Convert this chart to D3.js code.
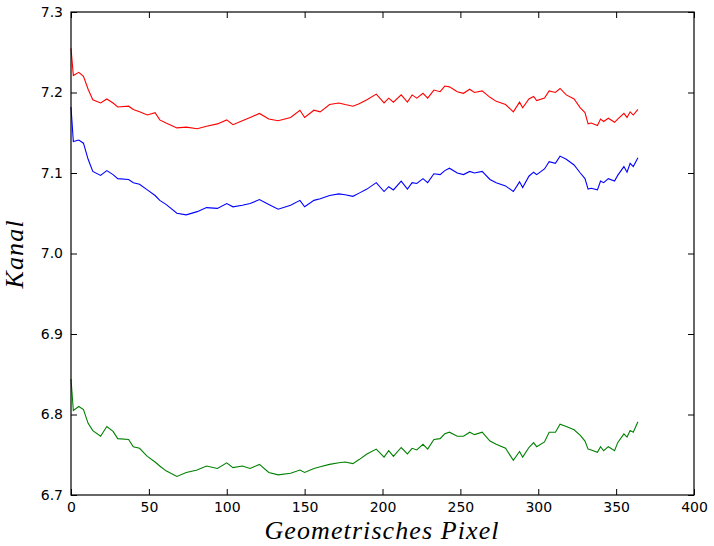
<!DOCTYPE html>
<html>
<meta charset="utf-8">
<script src="https://d3js.org/d3.v7.min.js"></script>
<style>
  body { margin: 0; background: #fff; }
  .tick text { font-family: "DejaVu Sans", sans-serif; font-size: 14px; fill: #000; }
  .tick line { stroke: #000; }
  .axis-title { font-family: "Liberation Serif", serif; font-style: italic; font-size: 26px; }
</style>
<body>
<div id="chart"></div>
<script>

// pixel positions along the detector (shared by all three channels)
var pixels = [0, 1.5, 5, 8, 11, 14, 19, 23, 27, 30, 37, 40, 44, 49, 54, 57, 61, 68, 74, 81,
  87, 94, 100, 104, 110, 115, 121, 127, 133, 141, 147, 150, 156, 160, 166, 172, 176, 181, 185, 190,
  196, 201, 204, 207, 212, 216, 219, 222, 226, 229, 233, 237, 240, 243, 248, 252, 256, 259, 264, 269,
  273, 279, 284, 288, 290, 294, 297, 299, 304, 307, 311, 314, 318, 323, 327, 330, 332, 334, 338, 340,
  342, 345, 349, 351, 355, 357, 359, 361, 364];

var redValues = [7.255, 7.221, 7.225, 7.220, 7.204, 7.191, 7.187, 7.192, 7.187, 7.182, 7.183, 7.179, 7.176, 7.172, 7.175, 7.166, 7.162, 7.156, 7.157, 7.155,
  7.158, 7.161, 7.166, 7.160, 7.165, 7.169, 7.174, 7.167, 7.165, 7.169, 7.178, 7.169, 7.178, 7.176, 7.185, 7.187, 7.185, 7.183, 7.186, 7.191,
  7.198, 7.187, 7.193, 7.188, 7.197, 7.188, 7.197, 7.193, 7.199, 7.193, 7.203, 7.201, 7.208, 7.207, 7.201, 7.199, 7.204, 7.200, 7.202, 7.194,
  7.189, 7.185, 7.176, 7.188, 7.181, 7.192, 7.195, 7.190, 7.193, 7.202, 7.200, 7.205, 7.197, 7.192, 7.181, 7.175, 7.161, 7.162, 7.159, 7.167,
  7.164, 7.168, 7.163, 7.167, 7.174, 7.169, 7.176, 7.172, 7.179];

var blueValues = [7.182, 7.139, 7.141, 7.137, 7.117, 7.102, 7.097, 7.103, 7.098, 7.093, 7.092, 7.088, 7.086, 7.079, 7.072, 7.066, 7.061, 7.050, 7.048, 7.052,
  7.057, 7.056, 7.062, 7.058, 7.060, 7.062, 7.067, 7.061, 7.055, 7.060, 7.066, 7.058, 7.066, 7.068, 7.072, 7.074, 7.073, 7.071, 7.075, 7.080,
  7.088, 7.077, 7.083, 7.079, 7.090, 7.080, 7.088, 7.087, 7.093, 7.088, 7.099, 7.098, 7.103, 7.106, 7.100, 7.098, 7.102, 7.100, 7.102, 7.092,
  7.088, 7.084, 7.077, 7.089, 7.082, 7.096, 7.101, 7.098, 7.105, 7.114, 7.112, 7.121, 7.117, 7.110, 7.100, 7.093, 7.080, 7.081, 7.079, 7.090,
  7.088, 7.093, 7.090, 7.097, 7.108, 7.101, 7.112, 7.108, 7.119];

var greenValues = [6.844, 6.805, 6.810, 6.806, 6.789, 6.780, 6.773, 6.785, 6.779, 6.770, 6.769, 6.760, 6.758, 6.748, 6.741, 6.736, 6.730, 6.723, 6.728, 6.731,
  6.736, 6.733, 6.740, 6.734, 6.736, 6.733, 6.738, 6.728, 6.725, 6.727, 6.731, 6.728, 6.733, 6.735, 6.738, 6.740, 6.741, 6.739, 6.744, 6.751,
  6.757, 6.747, 6.755, 6.748, 6.759, 6.751, 6.758, 6.756, 6.763, 6.757, 6.769, 6.770, 6.776, 6.778, 6.773, 6.773, 6.778, 6.775, 6.778, 6.767,
  6.763, 6.758, 6.743, 6.754, 6.747, 6.759, 6.765, 6.760, 6.766, 6.778, 6.778, 6.788, 6.785, 6.781, 6.774, 6.767, 6.757, 6.756, 6.753, 6.760,
  6.755, 6.760, 6.755, 6.765, 6.776, 6.772, 6.780, 6.778, 6.791];

var xTicks = [0, 50, 100, 150, 200, 250, 300, 350, 400];
var yTicks = [6.7, 6.8, 6.9, 7.0, 7.1, 7.2, 7.3];

var margin = { top: 12, right: 20, bottom: 51, left: 71 },
    width = 714 - margin.left - margin.right,
    height = 546 - margin.top - margin.bottom;

var svg = d3.select("#chart")
    .append("svg")
    .attr("width", 714)
    .attr("height", 546)
    .style("background", "#fff")
    .append("g")
    .attr("transform", "translate(" + margin.left + "," + margin.top + ")");

var x = d3.scaleLinear().domain([0, 400]).range([0, width]);
var y = d3.scaleLinear().domain([6.7, 7.3]).range([height, 0]);

// ticks point inwards on all four sides
svg.append("g")
    .attr("transform", "translate(0," + height + ")")
    .call(d3.axisBottom(x).tickValues(xTicks).tickSizeInner(-6).tickSizeOuter(0).tickPadding(7))
    .call(function (g) { g.select(".domain").remove(); });
svg.append("g")
    .call(d3.axisTop(x).tickValues(xTicks).tickSizeInner(-6).tickSizeOuter(0).tickFormat(""))
    .call(function (g) { g.select(".domain").remove(); });
svg.append("g")
    .call(d3.axisLeft(y).tickValues(yTicks).tickSizeInner(-6).tickSizeOuter(0).tickPadding(8).tickFormat(d3.format(".1f")))
    .call(function (g) { g.select(".domain").remove(); });
svg.append("g")
    .attr("transform", "translate(" + width + ",0)")
    .call(d3.axisRight(y).tickValues(yTicks).tickSizeInner(-6).tickSizeOuter(0).tickFormat(""))
    .call(function (g) { g.select(".domain").remove(); });

var line = d3.line()
    .x(function (d) { return x(d[0]); })
    .y(function (d) { return y(d[1]); });

var series = [
    { values: redValues, color: "#ff0000" },
    { values: blueValues, color: "#0000ff" },
    { values: greenValues, color: "#008000" }
];

series.forEach(function (s) {
    svg.append("path")
        .datum(pixels.map(function (p, i) { return [p, s.values[i]]; }))
        .attr("fill", "none")
        .attr("stroke", s.color)
        .attr("stroke-width", 1.1)
        .attr("d", line);
});

// frame
svg.append("rect")
    .attr("width", width)
    .attr("height", height)
    .attr("fill", "none")
    .attr("stroke", "#000")
    .attr("stroke-width", 1.2);

svg.append("text")
    .attr("class", "axis-title")
    .attr("x", width / 2 - 1)
    .attr("y", height + 44)
    .attr("text-anchor", "middle")
    .attr("textLength", 234)
    .attr("lengthAdjust", "spacing")
    .text("Geometrisches Pixel");

svg.append("text")
    .attr("class", "axis-title")
    .attr("transform", "translate(" + (-48) + "," + (height / 2 + 1) + ") rotate(-90)")
    .attr("text-anchor", "middle")
    .attr("textLength", 68)
    .attr("lengthAdjust", "spacing")
    .text("Kanal");

</script>
</body>
</html>
